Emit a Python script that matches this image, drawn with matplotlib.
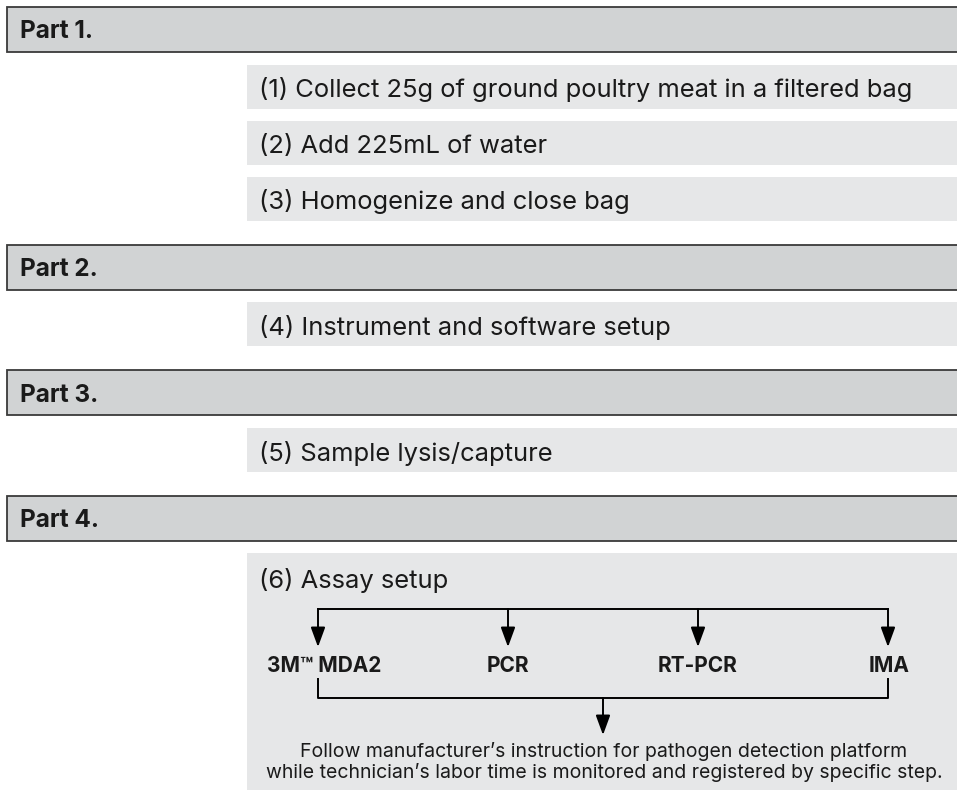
import matplotlib.pyplot as plt
from matplotlib.patches import Rectangle
import numpy as np

# Diagram content
parts = ["Part 1.", "Part 2.", "Part 3.", "Part 4."]
steps = [
    ["(1) Collect 25g of ground poultry meat in a filtered bag",
     "(2) Add 225mL of water",
     "(3) Homogenize and close bag"],
    ["(4) Instrument and software setup"],
    ["(5) Sample lysis/capture"],
]
assay_title = "(6) Assay setup"
methods = ["3M\u2122 MDA2", "PCR", "RT-PCR", "IMA"]
note = ("Follow manufacturer\u2019s instruction for pathogen detection platform\n"
        "while technician\u2019s labor time is monitored and registered by specific step.")

plt.rcParams['font.family'] = ['Inter', 'DejaVu Sans']
W, H = 957, 796
fig = plt.figure(figsize=(W / 100, H / 100), dpi=100)
ax = fig.add_axes([0, 0, 1, 1])
ax.set_xlim(0, W)
ax.set_ylim(H, 0)
ax.axis('off')

header_fill = '#d1d3d4'
step_fill = '#e6e7e8'
ink = '#1a1a1a'

header_h, step_h = 45, 44
step_x = 247


def header(y, label):
    ax.add_patch(Rectangle((7, y), W + 10, header_h, facecolor=header_fill,
                           edgecolor='#3a3a3a', lw=1.3))
    ax.text(20, y + header_h / 2, label, fontsize=17.5, fontweight='bold',
            color=ink, va='center_baseline', ha='left')


def step_box(y, h):
    ax.add_patch(Rectangle((step_x, y), W - step_x + 5, h, facecolor=step_fill,
                           edgecolor='none'))


def arrow(x, y0, y1):
    ax.annotate('', xy=(x, y1), xytext=(x, y0),
                arrowprops=dict(arrowstyle='-|>,head_length=0.6,head_width=0.22',
                                color='black', lw=1.4, shrinkA=0, shrinkB=0,
                                mutation_scale=20))


y = 7
for i, part in enumerate(parts):
    header(y, part)
    y += header_h + 12.5
    if i < len(steps):
        for j, s in enumerate(steps[i]):
            step_box(y, step_h)
            ax.text(step_x + 12, y + step_h / 2 + 1, s, fontsize=18.4, color=ink,
                    va='center_baseline', ha='left')
            y += step_h + (12 if j < len(steps[i]) - 1 else 0)
        y += 24

# Part 4: assay setup box with branching
box_top = y
box_bot = 790
step_box(box_top, box_bot - box_top)
ax.text(step_x + 12, box_top + 25, assay_title, fontsize=18.4, color=ink,
        va='center_baseline', ha='left')

xs = np.linspace(318, 888, len(methods))
branch_y = box_top + 56
tip_y = box_top + 94
label_y = box_top + 111
ax.plot([xs[0], xs[-1]], [branch_y, branch_y], color='black', lw=1.4)
label_dx = [6, 0, 0, 1]
for x, m, dx in zip(xs, methods, label_dx):
    arrow(x, branch_y, tip_y)
    ax.text(x + dx, label_y, m, fontsize=15, fontweight='bold', color=ink,
            ha='center', va='center_baseline')

brk_top = box_top + 126
brk_y = box_top + 145
ax.plot([xs[0], xs[0], xs[-1], xs[-1]], [brk_top, brk_y, brk_y, brk_top],
        color='black', lw=1.4)
mid = (xs[0] + xs[-1]) / 2
arrow(mid, brk_y, box_top + 182)
ax.text(mid + 1, box_top + 209, note, fontsize=14, color=ink, ha='center',
        va='center', linespacing=1.15)

fig.savefig('out.png', dpi=100)
